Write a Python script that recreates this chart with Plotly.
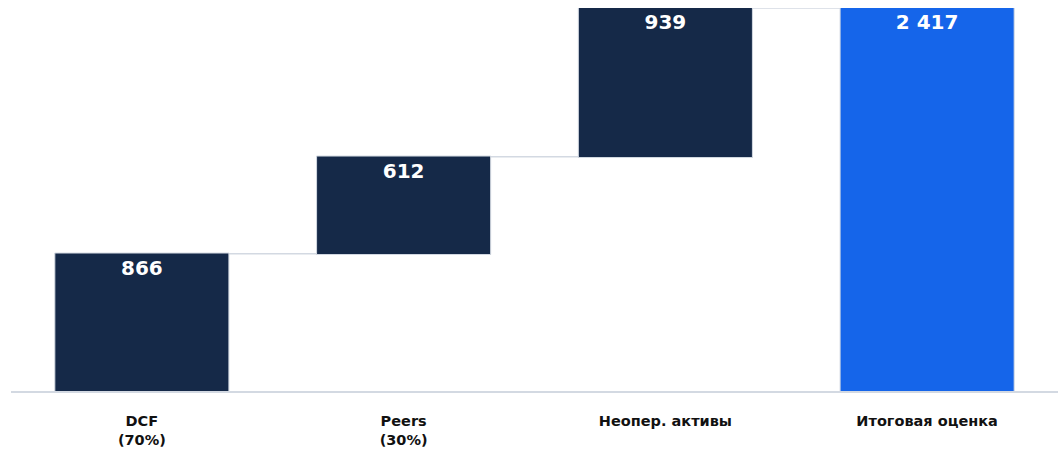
import plotly.graph_objects as go

# Valuation bridge: components and final estimate
categories = ["DCF<br>(70%)", "Peers<br>(30%)", "Неопер. активы", "Итоговая оценка"]
components = [866, 612, 939]
total = sum(components)

values = components + [total]
measures = ["relative", "relative", "relative", "total"]
labels = [f"{v:,}".replace(",", " ") for v in values]

NAVY = "#152948"
BLUE = "#1565EA"
GRID = "#D3D9E2"

fig = go.Figure(go.Waterfall(
    x=categories,
    y=components + [0],
    measure=measures,
    text=labels,
    textposition="inside",
    insidetextanchor="end",
    textfont=dict(family="DejaVu Sans", size=20, color="white", weight="bold"),
    constraintext="none",
    increasing=dict(marker=dict(color=NAVY, line=dict(color=GRID, width=1))),
    decreasing=dict(marker=dict(color=NAVY, line=dict(color=GRID, width=1))),
    totals=dict(marker=dict(color=BLUE, line=dict(color=GRID, width=1))),
    connector=dict(line=dict(color=GRID, width=1.5)),
    width=0.665,
    hoverinfo="skip",
))

fig.update_layout(
    width=1064,
    height=456,
    margin=dict(l=11, r=6, t=8, b=65),
    plot_bgcolor="white",
    paper_bgcolor="white",
    showlegend=False,
    xaxis=dict(
        showline=True,
        linecolor=GRID,
        linewidth=1.5,
        showgrid=False,
        ticks="",
        tickfont=dict(family="DejaVu Sans", size=14.5, color="#111111", weight="bold"),
        ticklabelstandoff=16,
    ),
    yaxis=dict(
        range=[0, total],
        visible=False,
        showgrid=False,
        zeroline=False,
    ),
)

fig.write_html("out.html")
